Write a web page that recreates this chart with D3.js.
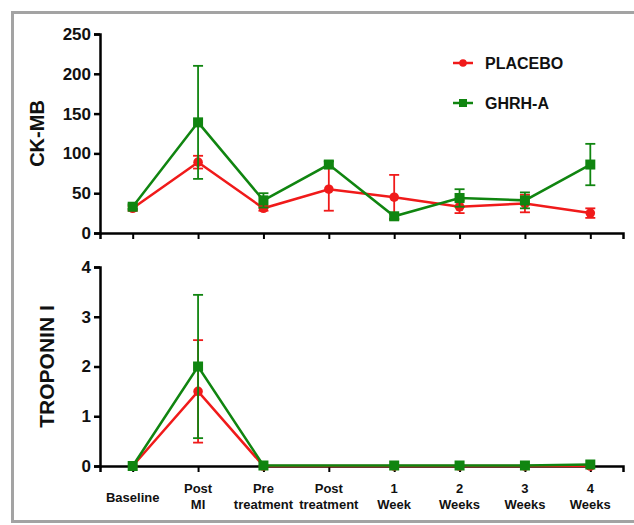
<!DOCTYPE html>
<html>
<head>
<meta charset="utf-8">
<script src="https://cdn.jsdelivr.net/npm/d3@7"></script>
<style>
  body { margin: 0; background: #fff; }
  svg text { font-family: "Liberation Sans", Arial, sans-serif; font-weight: bold; }
</style>
</head>
<body>
<div id="chart"></div>
<script>
let width = 634
let height = 525

// categories (x axis labels, split into lines)
let categories = ["Baseline", "Post MI", "Pre treatment", "Post treatment", "1 Week", "2 Weeks", "3 Weeks", "4 Weeks"]
let catLines = [["Baseline"], ["Post", "MI"], ["Pre", "treatment"], ["Post", "treatment"], ["1", "Week"], ["2", "Weeks"], ["3", "Weeks"], ["4", "Weeks"]]

// CK-MB panel
let ckPlacebo = [31, 89, 31, 55, 45, 33, 37, 25]
let ckPlaceboErr = [3, 8, 3, 27, 28, 8, 11, 6]
let ckGhrh = [33, 139, 41, 86, 21, 44, 41, 86]
let ckGhrhErr = [3, 71, 9, 4, 3, 11, 10, 26]
let ckTicks = [0, 50, 100, 150, 200, 250]

// Troponin I panel (post treatment not measured)
let tnPlacebo = [0, 1.5, 0, null, 0, 0, 0, 0]
let tnPlaceboErr = [0, 1.03, 0, null, 0, 0, 0, 0]
let tnGhrh = [0, 2.0, 0.01, null, 0.01, 0.01, 0.01, 0.03]
let tnGhrhErr = [0, 1.44, 0, null, 0, 0, 0, 0]
let tnTicks = [0, 1, 2, 3, 4]

let red = "#f01a1a"
let green = "#108510"

let svg = d3.select("#chart").append("svg")
            .attr("width", width)
            .attr("height", height)

// gray frame
svg.append("rect")
   .attr("x", 12.5).attr("y", 12.5)
   .attr("width", 640).attr("height", 509)
   .attr("fill", "none")
   .attr("stroke", "#a3a3a3")
   .attr("stroke-width", 3)

let xScale = d3.scalePoint()
               .domain(categories)
               .range([100, 623])
               .padding(0.5)

function drawPanel(cfg) {
  let yScale = d3.scaleLinear().domain(cfg.domain).range([cfg.bottom, cfg.top])
  let g = svg.append("g")

  // y axis
  let yAxis = d3.axisLeft(yScale).tickValues(cfg.ticks).tickFormat(d3.format("d"))
                .tickSizeOuter(0).tickSize(6).tickPadding(3)
  let ya = g.append("g").attr("transform", "translate(100,0)").call(yAxis)
  ya.select(".domain").attr("stroke-width", 2.5)
  ya.selectAll(".tick line").attr("stroke-width", 2.5)
  ya.selectAll(".tick text").style("font-size", "17px").attr("fill", "#111")

  // x axis
  let xAxis = d3.axisBottom(xScale).tickSizeOuter(0).tickSize(6).tickFormat("")
  let xa = g.append("g").attr("transform", "translate(0," + cfg.bottom + ")").call(xAxis)
  xa.select(".domain").attr("stroke-width", 2.5)
  xa.selectAll(".tick line").attr("stroke-width", 2)

  // y title
  g.append("text")
   .attr("transform", "translate(" + cfg.titleX + "," + ((cfg.top + cfg.bottom) / 2) + ") rotate(-90)")
   .attr("text-anchor", "middle")
   .attr("dy", "0.35em")
   .style("font-size", cfg.titleSize + "px")
   .attr("fill", "#111")
   .text(cfg.title)

  let series = [
    { vals: cfg.placebo, errs: cfg.placeboErr, color: red, shape: "circle" },
    { vals: cfg.ghrh, errs: cfg.ghrhErr, color: green, shape: "square" }
  ]

  series.forEach(s => {
    let pts = categories.map((c, i) => ({ c: c, v: s.vals[i], e: s.errs[i] })).filter(d => d.v != null)

    let line = d3.line().x(d => xScale(d.c)).y(d => yScale(d.v))
    g.append("path")
     .datum(pts)
     .attr("d", line)
     .attr("fill", "none")
     .attr("stroke", s.color)
     .attr("stroke-width", 2.5)

    // error bars
    let eb = g.selectAll(null).data(pts.filter(d => d.e > 0)).enter().append("g")
    eb.append("line")
      .attr("x1", d => xScale(d.c)).attr("x2", d => xScale(d.c))
      .attr("y1", d => yScale(d.v - d.e)).attr("y2", d => yScale(d.v + d.e))
      .attr("stroke", s.color).attr("stroke-width", 1.8)
    ;[-1, 1].forEach(sign => {
      eb.append("line")
        .attr("x1", d => xScale(d.c) - 5).attr("x2", d => xScale(d.c) + 5)
        .attr("y1", d => yScale(d.v + sign * d.e)).attr("y2", d => yScale(d.v + sign * d.e))
        .attr("stroke", s.color).attr("stroke-width", 1.8)
    })

    // markers
    if (s.shape == "circle") {
      g.selectAll(null).data(pts).enter().append("circle")
       .attr("cx", d => xScale(d.c)).attr("cy", d => yScale(d.v))
       .attr("r", 4.8).attr("fill", s.color)
    } else {
      g.selectAll(null).data(pts).enter().append("rect")
       .attr("x", d => xScale(d.c) - 5).attr("y", d => yScale(d.v) - 5)
       .attr("width", 10).attr("height", 10).attr("fill", s.color)
    }
  })
  return g
}

drawPanel({
  domain: [0, 250], top: 34, bottom: 233, ticks: ckTicks,
  title: "CK-MB", titleX: 37, titleSize: 20,
  placebo: ckPlacebo, placeboErr: ckPlaceboErr, ghrh: ckGhrh, ghrhErr: ckGhrhErr
})

drawPanel({
  domain: [0, 4], top: 267, bottom: 466, ticks: tnTicks,
  title: "TROPONIN I", titleX: 47, titleSize: 21,
  placebo: tnPlacebo, placeboErr: tnPlaceboErr, ghrh: tnGhrh, ghrhErr: tnGhrhErr
})

// x category labels under bottom panel
let labels = svg.append("g").selectAll("text")
  .data(categories)
  .enter()
  .append("text")
  .attr("text-anchor", "middle")
  .attr("fill", "#111")
  .style("font-size", "13px")
  .attr("transform", d => "translate(" + xScale(d) + ",0)")

labels.each(function(d, i) {
  let lines = catLines[i]
  let t = d3.select(this)
  if (lines.length == 1) {
    t.append("tspan").attr("x", 0).attr("y", 502).text(lines[0])
  } else {
    t.append("tspan").attr("x", 0).attr("y", 493).text(lines[0])
    t.append("tspan").attr("x", 0).attr("y", 509).text(lines[1])
  }
})

// legend
let legendItems = [
  { name: "PLACEBO", color: red, shape: "circle", y: 63 },
  { name: "GHRH-A", color: green, shape: "square", y: 103 }
]
let lg = svg.append("g").selectAll("g").data(legendItems).enter().append("g")
lg.append("line")
  .attr("x1", 453).attr("x2", 473)
  .attr("y1", d => d.y).attr("y2", d => d.y)
  .attr("stroke", d => d.color).attr("stroke-width", 2.5)
lg.filter(d => d.shape == "circle").append("circle")
  .attr("cx", 463).attr("cy", d => d.y).attr("r", 3.8).attr("fill", d => d.color)
lg.filter(d => d.shape == "square").append("rect")
  .attr("x", 459).attr("y", d => d.y - 4).attr("width", 8).attr("height", 8).attr("fill", d => d.color)
lg.append("text")
  .attr("x", 485).attr("y", d => d.y)
  .attr("dy", "0.35em")
  .style("font-size", "16px")
  .attr("fill", "#111")
  .text(d => d.name)
</script>
</body>
</html>
